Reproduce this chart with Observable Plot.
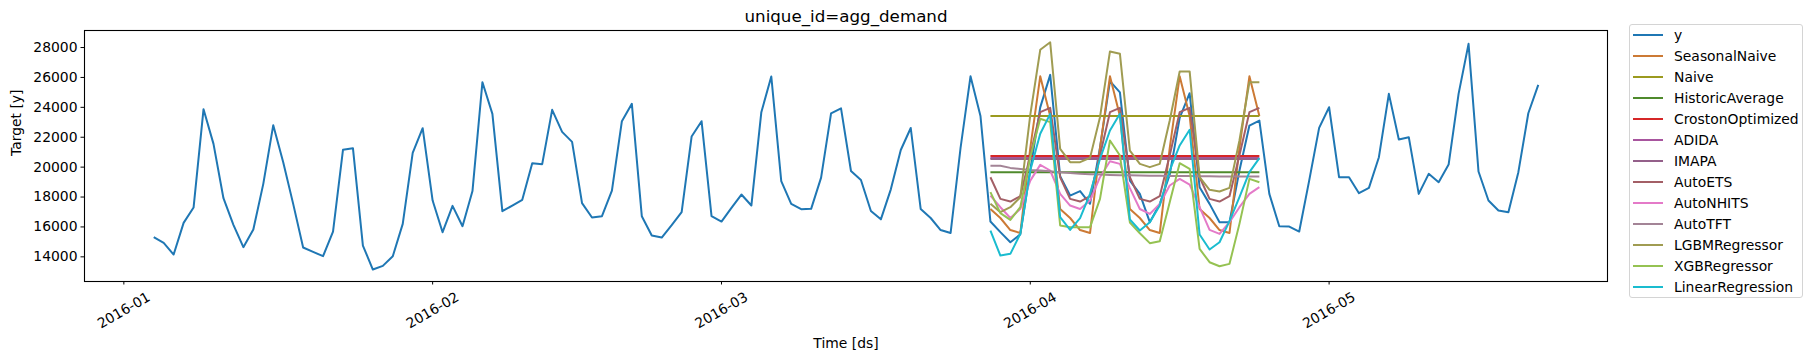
<!DOCTYPE html>
<html>
<head>
<meta charset="utf-8">
<script src="https://cdn.jsdelivr.net/npm/d3@7"></script>
<script src="https://cdn.jsdelivr.net/npm/@observablehq/plot@0.6"></script>
<style>
  html, body { margin: 0; padding: 0; background: #fff; }
  #wrap { position: relative; width: 1813px; height: 361px; font-family: "DejaVu Sans", sans-serif; }
  #legend { position: absolute; left: 1629px; top: 24px; width: 174px; height: 274px;
    border: 1px solid #d4d4d4; border-radius: 3px; box-sizing: border-box; background: #fff; }
  .item { position: absolute; left: 3px; height: 21px; display: flex; align-items: center; font-size: 13.9px; color: #000; white-space: nowrap; }
  .item .sw { width: 30px; height: 2px; margin-right: 11px; }
</style>
</head>
<body>
<div id="wrap"><div id="chart"></div><div id="legend"></div></div>
<script>
// ---- data ----
const historyStart = "2016-01-04";
const historyEnd = "2016-05-23"; // exclusive
const forecastStart = "2016-03-28";
const forecastEnd = "2016-04-25"; // exclusive

const yValues = [
  15313, 14934, 14154, 16271, 17298, 23876, 21557, 17922, 16139, 14644, 15826, 18881, 22806, 20330,
  17543, 14622, 14332, 14042, 15692, 21156, 21267, 14756, 13150, 13396, 14042, 16205, 20955, 22605,
  17766, 15648, 17410, 16050, 18400, 25683, 23565, 17053, 17432, 17811, 20264, 20197, 23832, 22360,
  21691, 17588, 16629, 16718, 18436, 23074, 24233, 16718, 15425, 15291, 16116, 16986, 22048, 23074,
  16718, 16361, 17275, 18167, 17432, 23676, 26062, 19060, 17543, 17186, 17209, 19300, 23600, 23935,
  19742, 19140, 17066, 16508, 18515, 21146, 22618, 17199, 16597, 15794, 15593, 21280, 26075, 23421,
  16361, 15650, 14980, 15500, 19800, 24000, 26173, 19400, 18100, 18400, 17550, 21300, 25750, 25000,
  19100, 18212, 16317, 17543, 19500, 23300, 24943, 18659, 17543, 16317, 16317, 19770, 22783, 23118,
  18212, 16049, 16027, 15693, 19100, 22623, 24006, 19325, 19325, 18258, 18614, 20665, 24903, 21848,
  22005, 18212, 19553, 18995, 20174, 24903, 28248, 19709, 17769, 17100, 16989, 19664, 23605, 25505
];

const seasonalNaive = [
  17199, 16597, 15794, 15593, 21280, 26075, 23421, 17199, 16597, 15794, 15593, 21280, 26075, 23421,
  17199, 16597, 15794, 15593, 21280, 26075, 23421, 17199, 16597, 15794, 15593, 21280, 26075, 23421
];
const naive = [
  23421, 23421, 23421, 23421, 23421, 23421, 23421, 23421, 23421, 23421, 23421, 23421, 23421, 23421,
  23421, 23421, 23421, 23421, 23421, 23421, 23421, 23421, 23421, 23421, 23421, 23421, 23421, 23421
];
const historicAverage = [
  19662, 19662, 19662, 19662, 19662, 19662, 19662, 19662, 19662, 19662, 19662, 19662, 19662, 19662,
  19662, 19662, 19662, 19662, 19662, 19662, 19662, 19662, 19662, 19662, 19662, 19662, 19662, 19662
];
const crostonOptimized = [
  20750, 20750, 20750, 20750, 20750, 20750, 20750, 20750, 20750, 20750, 20750, 20750, 20750, 20750,
  20750, 20750, 20750, 20750, 20750, 20750, 20750, 20750, 20750, 20750, 20750, 20750, 20750, 20750
];
const adida = [
  20610, 20610, 20610, 20610, 20610, 20610, 20610, 20610, 20610, 20610, 20610, 20610, 20610, 20610,
  20610, 20610, 20610, 20610, 20610, 20610, 20610, 20610, 20610, 20610, 20610, 20610, 20610, 20610
];
const imapa = [
  20540, 20540, 20540, 20540, 20540, 20540, 20540, 20540, 20540, 20540, 20540, 20540, 20540, 20540,
  20540, 20540, 20540, 20540, 20540, 20540, 20540, 20540, 20540, 20540, 20540, 20540, 20540, 20540
];
const autoETS = [
  19325, 17875, 17700, 18055, 20800, 23675, 23965, 19325, 17875, 17700, 18055, 20800, 23675, 23965,
  19325, 17875, 17700, 18055, 20800, 23675, 23965, 19325, 17875, 17700, 18055, 20800, 23675, 23965
];
const autoNHITS = [
  18100, 17320, 16600, 17200, 19100, 20150, 19775, 18212, 17432, 17200, 17767, 19325, 20392, 20218,
  18600, 17200, 16870, 17540, 18770, 19213, 18832, 17320, 15800, 15536, 16317, 17320, 18212, 18658
];
const autoTFT = [
  20100, 20090, 19950, 19880, 19810, 19770, 19720, 19650, 19600, 19560, 19530, 19500, 19480, 19460,
  19450, 19440, 19430, 19420, 19410, 19400, 19400, 19390, 19390, 19380, 19380, 19380, 19370, 19370
];
const lgbm = [
  17545, 16990, 17320, 17990, 23500, 27850, 28350, 21220, 20330, 20330, 20620, 23340, 27740, 27580,
  21110, 20220, 20000, 20220, 23120, 26400, 26400, 19330, 18480, 18370, 18610, 21780, 25680, 25680
];
const xgb = [
  18330, 16920, 16475, 17320, 20670, 23235, 23010, 16095, 15985, 15985, 15985, 17875, 21780, 20775,
  16300, 15580, 14915, 15045, 17655, 20265, 19885, 14530, 13640, 13370, 13530, 16205, 19215, 18990
];
const linReg = [
  15760, 14087, 14200, 15540, 19775, 22230, 23565, 16650, 15800, 16585, 18212, 20555, 22450, 23565,
  16500, 15760, 16317, 17432, 19775, 21450, 22500, 15490, 14487, 14978, 16384, 17990, 19665, 20600
];

const seriesNames = ["y", "SeasonalNaive", "Naive", "HistoricAverage", "CrostonOptimized", "ADIDA", "IMAPA",
  "AutoETS", "AutoNHITS", "AutoTFT", "LGBMRegressor", "XGBRegressor", "LinearRegression"];
const seriesColors = ["#1f77b4", "#cc7a35", "#9b9a1f", "#4f8a2c", "#d62728", "#a8559e", "#94608a",
  "#a35f66", "#e47ac8", "#a38496", "#a09c52", "#95c252", "#1abccf"];
const forecastValues = [seasonalNaive, naive, historicAverage, crostonOptimized, adida, imapa,
  autoETS, autoNHITS, autoTFT, lgbm, xgb, linReg];

const yTicks = [14000, 16000, 18000, 20000, 22000, 24000, 26000, 28000];
const titleText = "unique_id=agg_demand";
const xLabel = "Time [ds]";
const yLabel = "Target [y]";

// ---- build rows ----
const histDates = d3.utcDays(new Date(historyStart), new Date(historyEnd));
const fcDates = d3.utcDays(new Date(forecastStart), new Date(forecastEnd));
const rows = histDates.map((d, i) => ({ds: d, value: yValues[i], series: "y"}));
forecastValues.forEach((vals, k) => {
  fcDates.forEach((d, i) => rows.push({ds: d, value: vals[i], series: seriesNames[k + 1]}));
});

// matplotlib-like 5% margins on x
const x0 = +histDates[0], x1 = +histDates[histDates.length - 1];
const pad = (x1 - x0) * 0.05;
const xDomain = [new Date(x0 - pad), new Date(x1 + pad)];
const months = d3.utcMonths(xDomain[0], xDomain[1]);

const chart = Plot.plot({
  width: 1813,
  height: 361,
  marginLeft: 84,
  marginRight: 206,
  marginTop: 30,
  marginBottom: 80,
  style: {fontFamily: "DejaVu Sans, sans-serif", fontSize: "13.9px", background: "#fff", color: "#000"},
  x: {type: "utc", domain: xDomain},
  y: {domain: [12350, 29140]},
  color: {domain: seriesNames, range: seriesColors},
  marks: [
    Plot.axisY({ticks: yTicks, tickSize: 3.5, tickPadding: 3.5, label: null, tickFormat: d => String(d)}),
    Plot.axisX({ticks: months, tickSize: 3.5, tickFormat: () => "", label: null}),
    Plot.text(months, {x: d => d, text: d3.utcFormat("%Y-%m"), frameAnchor: "bottom", dy: 29,
      rotate: -30, textAnchor: "middle", lineAnchor: "middle", fontSize: 13.9}),
    ...seriesNames.map(name => Plot.line(rows.filter(r => r.series === name),
      {x: "ds", y: "value", stroke: "series", strokeWidth: 2, strokeLinejoin: "round", strokeLinecap: "butt"})),
    Plot.frame({stroke: "#000", strokeWidth: 1.1}),
    Plot.text([titleText], {frameAnchor: "top", dy: -14, lineAnchor: "middle", fontSize: 16.7}),
    Plot.text([xLabel], {frameAnchor: "bottom", dy: 62, lineAnchor: "middle", fontSize: 13.9}),
    Plot.text([yLabel], {frameAnchor: "left", dx: -68, rotate: -90, lineAnchor: "middle", fontSize: 13.9})
  ]
});
document.getElementById("chart").appendChild(chart);

// legend
const legend = d3.select("#legend");
seriesNames.forEach((name, i) => {
  const it = legend.append("div").attr("class", "item").style("top", (-1 + i * 21) + "px");
  it.append("div").attr("class", "sw").style("background", seriesColors[i]);
  it.append("span").text(name);
});
</script>
</body>
</html>
